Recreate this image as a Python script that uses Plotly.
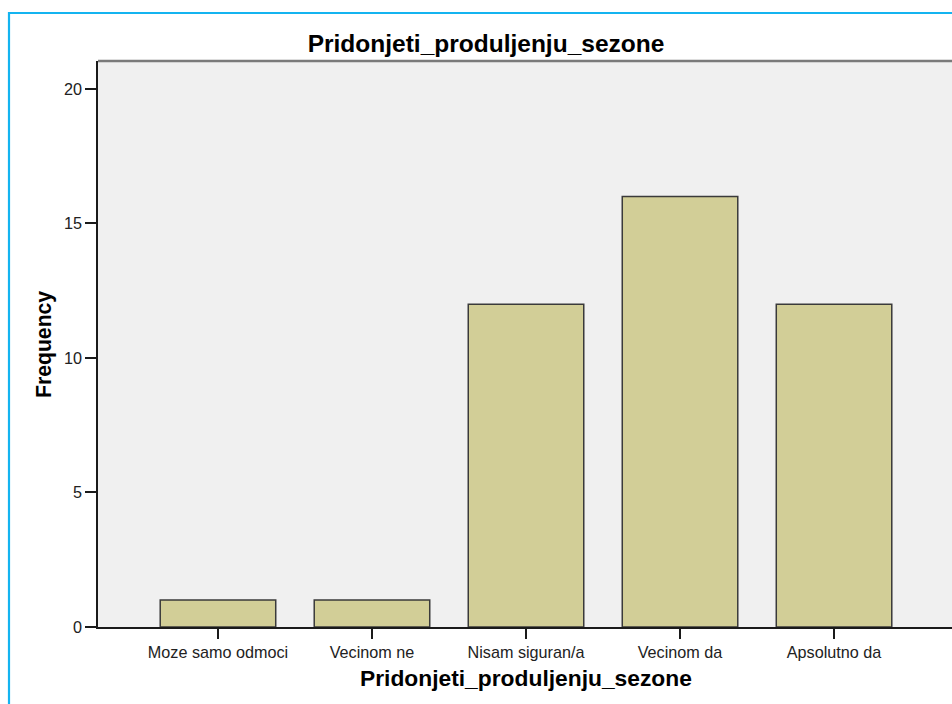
import plotly.graph_objects as go

categories = ["Moze samo odmoci", "Vecinom ne", "Nisam siguran/a", "Vecinom da", "Apsolutno da"]
frequencies = [1, 1, 12, 16, 12]
y_ticks = [0, 5, 10, 15, 20]
title_text = "Pridonjeti_produljenju_sezone"
x_title = "Pridonjeti_produljenju_sezone"
y_title = "Frequency"

W, H = 952, 704
ML, MR, MT, MB = 98, 0, 61, 77
pw = W - ML - MR
ph = H - MT - MB

def px_x(x):
    return (x - ML) / pw

def px_y(y):
    return (H - MB - y) / ph

fig = go.Figure()
fig.add_trace(go.Bar(
    x=categories, y=frequencies,
    marker=dict(color="#D2CE97", line=dict(color="#3a3a3a", width=1.5)),
    hoverinfo="x+y",
))

font_main = "Liberation Sans, Arial, sans-serif"

fig.update_layout(
    width=W, height=H,
    margin=dict(l=ML, r=MR, t=MT, b=MB),
    paper_bgcolor="white",
    plot_bgcolor="#F0F0F0",
    bargap=0.25,
    showlegend=False,
    title=dict(text="<b>" + title_text + "</b>", x=px_x(486), xref="paper", xanchor="center",
               y=1 - 43 / H, yref="container", yanchor="middle",
               font=dict(family=font_main, size=24.5, color="#000000")),
    xaxis=dict(
        type="category", range=[-0.779, 4.766],
        showline=True, linecolor="#1a1a1a", linewidth=1.5,
        ticks="outside", ticklen=10, tickwidth=1.5, tickcolor="#1a1a1a",
        tickfont=dict(family=font_main, size=16.2, color="#222222"),
        showgrid=False, zeroline=False,
    ),
    yaxis=dict(
        range=[0, 21.04], tickvals=y_ticks,
        showline=True, linecolor="#1a1a1a", linewidth=1.5,
        ticks="outside", ticklen=11, tickwidth=1.5, tickcolor="#1a1a1a",
        tickfont=dict(family=font_main, size=16.2, color="#222222"),
        showgrid=False, zeroline=False,
    ),
    annotations=[
        dict(text="<b>" + x_title + "</b>", xref="paper", yref="paper",
             x=px_x(526), y=px_y(678), xanchor="center", yanchor="middle",
             showarrow=False, font=dict(family=font_main, size=22.8, color="#000000")),
        dict(text="<b>" + y_title + "</b>", xref="paper", yref="paper",
             x=px_x(44), y=px_y(345), xanchor="center", yanchor="middle", textangle=-90,
             showarrow=False, font=dict(family=font_main, size=21.2, color="#000000")),
    ],
    shapes=[
        dict(type="line", xref="paper", yref="paper", x0=0, x1=1, y0=1, y1=1,
             line=dict(color="#7a7a7a", width=2.5)),
        dict(type="rect", xref="paper", yref="paper",
             x0=px_x(9), x1=px_x(1000), y0=px_y(760), y1=px_y(13),
             line=dict(color="#14B4F0", width=2.2), fillcolor="rgba(0,0,0,0)"),
    ],
)

fig.write_html("out.html", config={"displayModeBar": False},
               post_script="document.body.style.margin='0';document.body.style.overflow='hidden';")
